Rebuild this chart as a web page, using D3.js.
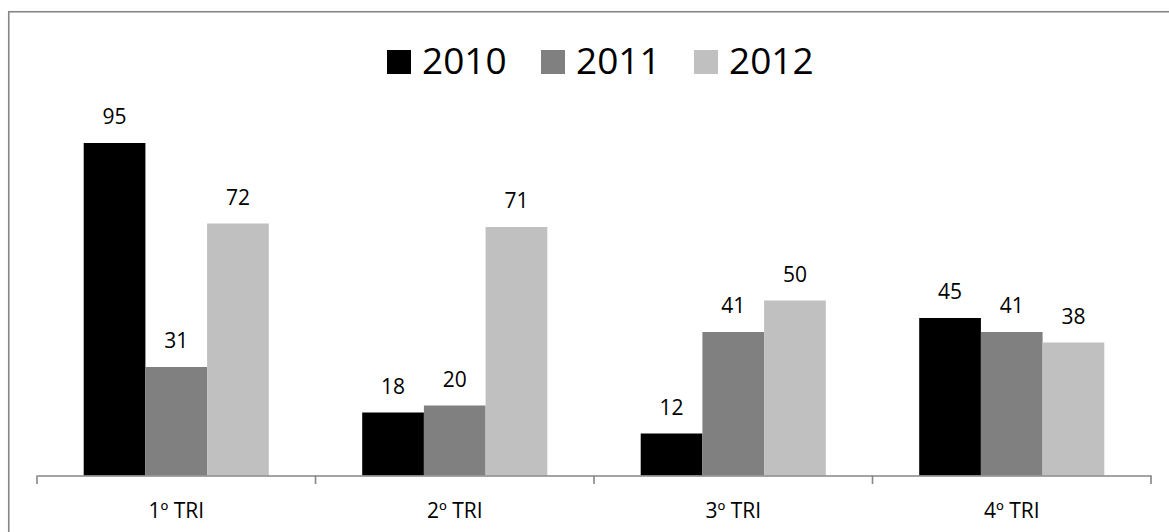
<!DOCTYPE html>
<html>
<head>
<meta charset="utf-8">
<script src="https://cdn.jsdelivr.net/npm/d3@7"></script>
<style>
  html, body { margin: 0; padding: 0; background: #fff; }
  svg { display: block; font-family: "Open Sans", "Noto Sans", sans-serif; }
</style>
</head>
<body>
<svg id="chart" width="1169" height="532"></svg>
<script>
const categories = ["1º TRI", "2º TRI", "3º TRI", "4º TRI"];
const seriesNames = ["2010", "2011", "2012"];
const values2010 = [95, 18, 12, 45];
const values2011 = [31, 20, 41, 41];
const values2012 = [72, 71, 50, 38];
const seriesColors = ["#000000", "#808080", "#c0c0c0"];

const seriesValues = [values2010, values2011, values2012];
const svg = d3.select("#chart");

// outer border (extends beyond right/bottom edges like the reference)
svg.append("rect")
  .attr("x", 8.75).attr("y", 11.75)
  .attr("width", 1200).attr("height", 600)
  .attr("fill", "none").attr("stroke", "#868686").attr("stroke-width", 1.6);

const x0 = d3.scaleBand().domain(categories).range([37, 1151]).paddingInner(0).paddingOuter(0);
const x1 = d3.scaleBand().domain(seriesNames).range([0, x0.bandwidth()]).paddingInner(0).paddingOuter(0.757);
const y = d3.scaleLinear().domain([0, 100]).range([475.5, 125.5]);

const data = [];
categories.forEach((c, i) => {
  seriesNames.forEach((s, j) => {
    data.push({ cat: c, series: s, value: seriesValues[j][i], color: seriesColors[j] });
  });
});

const g = svg.append("g");
g.selectAll("rect.bar").data(data).enter().append("rect")
  .attr("class", "bar")
  .attr("x", d => x0(d.cat) + x1(d.series))
  .attr("width", x1.bandwidth())
  .attr("y", d => y(d.value))
  .attr("height", d => y(0) - y(d.value))
  .attr("fill", d => d.color);

g.selectAll("text.val").data(data).enter().append("text")
  .attr("class", "val")
  .attr("x", d => x0(d.cat) + x1(d.series) + x1.bandwidth() / 2)
  .attr("y", d => y(d.value) - 19)
  .attr("text-anchor", "middle")
  .attr("font-size", 21)
  .attr("fill", "#000")
  .text(d => d.value);

// x axis
const axis = d3.axisBottom(x0).tickSize(0).tickSizeOuter(0);
const axG = svg.append("g").attr("transform", `translate(0,${y(0)})`).call(axis);
axG.select(".domain").attr("stroke", "#868686").attr("stroke-width", 1.6);
axG.selectAll(".tick text").attr("font-size", 21).attr("dy", 0).attr("y", 42)
  .attr("fill", "#000").style("font-family", "'Open Sans', 'Noto Sans', sans-serif");
// category boundary ticks
const bounds = categories.map(c => x0(c)).concat([x0.range()[1]]);
axG.selectAll("line.bound").data(bounds).enter().append("line")
  .attr("class", "bound")
  .attr("x1", d => d).attr("x2", d => d)
  .attr("y1", 0).attr("y2", 8.5)
  .attr("stroke", "#868686").attr("stroke-width", 1.6);

// legend
const legendX = [387, 541, 694];
const lg = svg.append("g");
seriesNames.forEach((s, j) => {
  lg.append("rect").attr("x", legendX[j]).attr("y", 50).attr("width", 24).attr("height", 24)
    .attr("fill", seriesColors[j]);
  lg.append("text").attr("x", legendX[j] + 35).attr("y", 73.5)
    .attr("font-size", 37).attr("fill", "#000").text(s);
});
</script>
</body>
</html>
